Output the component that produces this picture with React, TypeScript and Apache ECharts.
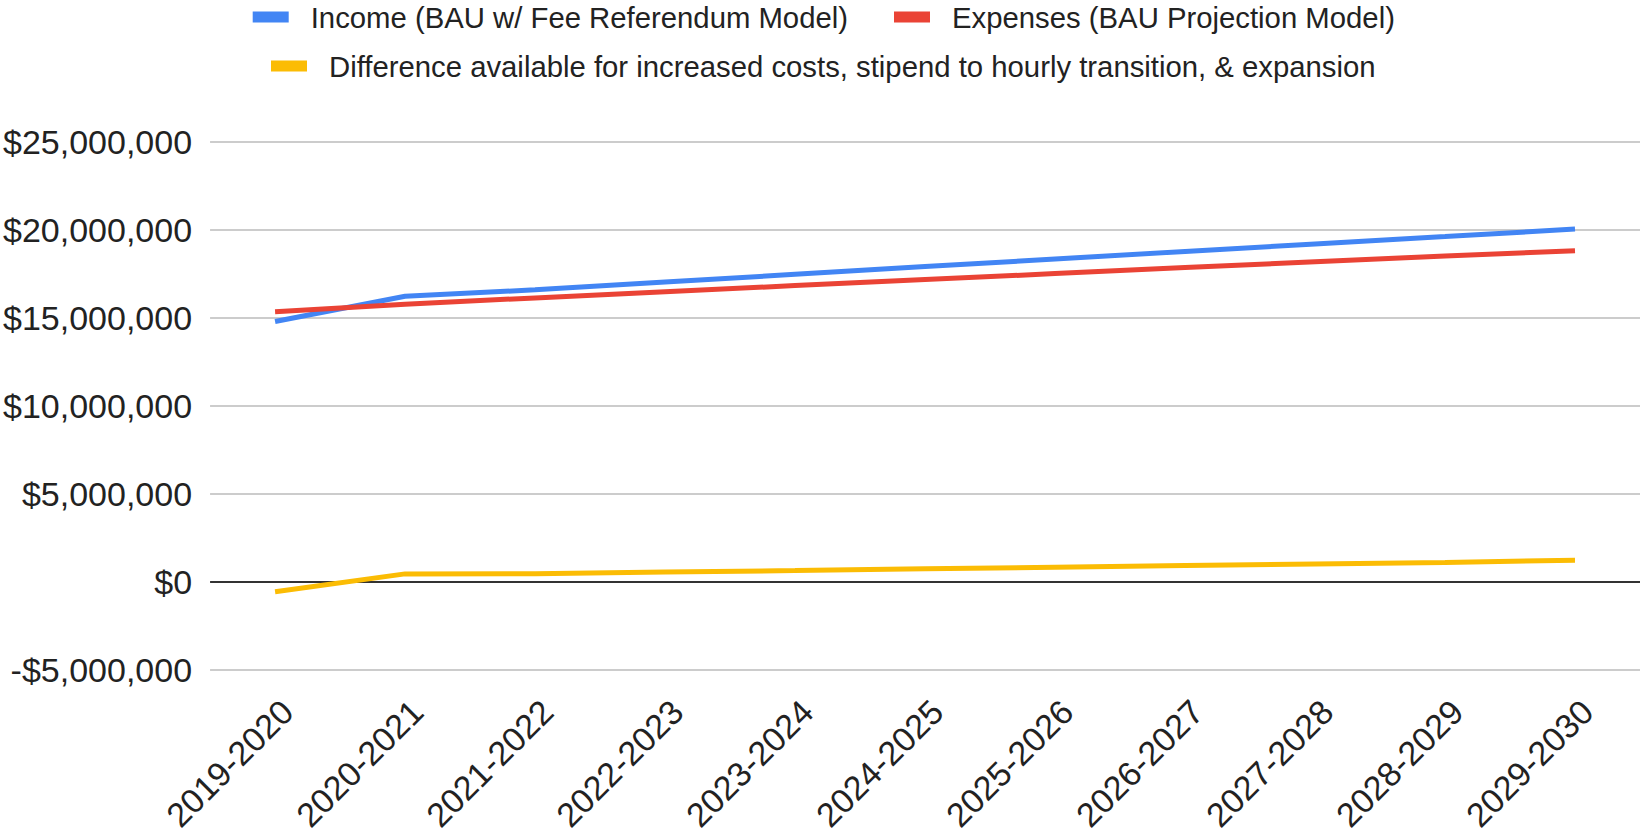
import React, { useEffect, useRef } from "react";
import * as echarts from "echarts";

const categories = [
  "2019-2020", "2020-2021", "2021-2022", "2022-2023", "2023-2024", "2024-2025",
  "2025-2026", "2026-2027", "2027-2028", "2028-2029", "2029-2030",
];

const seriesNames = [
  "Income (BAU w/ Fee Referendum Model)",
  "Expenses (BAU Projection Model)",
  "Difference available for increased costs, stipend to hourly transition, & expansion",
];

const incomeValues = [
  14780000, 16210000, 16580000, 17020000, 17460000, 17900000,
  18330000, 18760000, 19180000, 19600000, 20030000,
];

const expenseValues = [
  15340000, 15760000, 16120000, 16470000, 16820000, 17160000,
  17500000, 17840000, 18170000, 18500000, 18800000,
];

const differenceValues = [
  -560000, 450000, 460000, 550000, 640000, 740000,
  830000, 920000, 1010000, 1100000, 1230000,
];

const yMin = -5000000;
const yMax = 25000000;
const yStep = 5000000;

const colors = ["#4285F4", "#EA4335", "#FBBC04"];
const FONT = "Arial, 'Liberation Sans', sans-serif";

function money(v: number): string {
  const s = Math.abs(v).toLocaleString("en-US");
  return (v < 0 ? "-$" : "$") + s;
}

export default function App() {
  const ref = useRef<HTMLDivElement>(null);

  useEffect(() => {
    document.body.style.margin = "0";
    if (!ref.current) return;
    const chart = echarts.init(ref.current, undefined, { renderer: "svg" });

    const legendBase = {
      orient: "horizontal" as const,
      icon: "rect",
      padding: 0,
      itemWidth: 36,
      itemHeight: 11,
      textStyle: {
        fontFamily: FONT,
        fontSize: 29.3,
        color: "#222222",
        padding: [0, 0, 0, 17],
      },
    };

    const gridLineColors = [];
    for (let v = yMin; v <= yMax; v += yStep) {
      gridLineColors.push(v === 0 ? "#333333" : "#cccccc");
    }

    chart.setOption({
      animation: false,
      backgroundColor: "#ffffff",
      legend: [
        { ...legendBase, left: 252.7, top: 2.5, data: [seriesNames[0]] },
        { ...legendBase, left: 894, top: 2.5, data: [seriesNames[1]] },
        { ...legendBase, left: 271, top: 51.5, data: [seriesNames[2]] },
      ],
      grid: {
        left: 209.5,
        right: 3,
        top: 141.5,
        bottom: 159.2,
        containLabel: false,
      },
      xAxis: {
        type: "category",
        data: categories,
        boundaryGap: true,
        axisLine: { show: false },
        axisTick: { show: false },
        splitLine: { show: false },
        axisLabel: {
          rotate: 45,
          interval: 0,
          margin: 24,
          verticalAlign: "top",
          fontFamily: FONT,
          fontSize: 34,
          color: "#222222",
        },
      },
      yAxis: {
        type: "value",
        min: yMin,
        max: yMax,
        interval: yStep,
        axisLine: { show: false },
        axisTick: { show: false },
        axisLabel: {
          margin: 18,
          fontFamily: FONT,
          fontSize: 34,
          color: "#222222",
          formatter: (v: number) => money(v),
        },
        splitLine: {
          show: true,
          lineStyle: { color: gridLineColors, width: 2 },
        },
      },
      series: [
        {
          name: seriesNames[0],
          type: "line",
          data: incomeValues,
          symbol: "none",
          lineStyle: { width: 5, color: colors[0] },
          itemStyle: { color: colors[0] },
        },
        {
          name: seriesNames[1],
          type: "line",
          data: expenseValues,
          symbol: "none",
          lineStyle: { width: 5, color: colors[1] },
          itemStyle: { color: colors[1] },
        },
        {
          name: seriesNames[2],
          type: "line",
          data: differenceValues,
          symbol: "none",
          lineStyle: { width: 5, color: colors[2] },
          itemStyle: { color: colors[2] },
        },
      ],
    });

    return () => chart.dispose();
  }, []);

  return <div ref={ref} style={{ width: 1643, height: 835 }} />;
}
